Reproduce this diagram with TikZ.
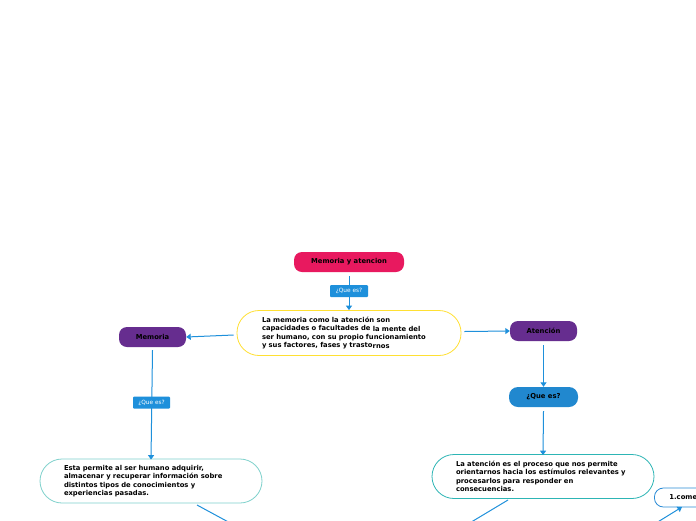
\documentclass[tikz,border=0pt]{standalone}
\usepackage{fontspec}
\setmainfont{DejaVu Sans}
\usetikzlibrary{arrows.meta,calc}
\definecolor{cpink}{HTML}{E8195F}
\definecolor{cpurple}{HTML}{662D8F}
\definecolor{clabel}{HTML}{1E90DB}
\definecolor{cqbox}{HTML}{2188CF}
\definecolor{cyellow}{HTML}{FFE033}
\definecolor{cteal}{HTML}{7FD1CC}
\definecolor{cteal2}{HTML}{2DB5B5}
\definecolor{cline}{HTML}{1E90DB}
\definecolor{cblue}{HTML}{2A8BD6}
\newcommand{\tline}[1]{\mbox{#1}}
\tikzset{
  txt/.style={font=\fontsize{6.8}{8.4}\selectfont\bfseries},
  topic/.style={txt, rounded corners=8pt, minimum height=20pt, inner sep=0pt, text=black},
  desc/.style={txt, draw, fill=white, line width=0.8pt, rounded corners=22pt, align=left, text width=174pt, inner xsep=24pt, inner ysep=0pt, minimum height=44pt, text=black},
  qlabel/.style={font=\fontsize{5.8}{6}\selectfont, fill=clabel, text=white, inner sep=0pt, minimum width=38pt, minimum height=12pt, rounded corners=1pt},
  conn/.style={draw=cline, line width=1pt, -{Triangle[width=6pt,length=4.5pt]}},
  plain/.style={draw=cline, line width=1pt},
}
\begin{document}
\begin{tikzpicture}[x=1pt,y=-1pt]
\useasboundingbox (0,0) rectangle (696,520);
\clip (0,0) rectangle (696,520);
\fill[white] (0,0) rectangle (696,520);

% nodes
\node[topic, fill=cpink, minimum width=110pt] (title) at (349,262) {Memoria y atencion};
\node[desc, draw=cyellow, inner xsep=25pt, minimum width=224pt, minimum height=45pt] (central) at (349,333)
 {\tline{La memoria como la atención son}\\\tline{capacidades o facultades de \raisebox{-0.8pt}{la mente del}}\\\tline{ser humano, con su propio funcionamiento}\\\tline{y sus factores, fases y trasto\raisebox{-1pt}{rnos}}};
\node[topic, fill=cpurple, minimum width=67pt] (memoria) at (152.5,337) {Memoria};
\node[topic, fill=cpurple, minimum width=67pt] (atencion) at (543.5,331) {Atención};
\node[topic, fill=cqbox, minimum width=69pt, rounded corners=9pt] (qatencion) at (543.5,397) {¿Que es?};
\node[desc, draw=cteal, minimum width=222pt] (mdesc) at (151,481)
 {\tline{Esta permite al ser humano adquirir,}\\\tline{almacenar y recuperar información sobre}\\\tline{distintos tipos de conocimientos y}\\\tline{experiencias pasadas.}};
\node[desc, draw=cteal2, minimum width=222pt] (adesc) at (543,476.5)
 {\tline{La atención es el proceso que nos permite}\\\tline{orientarnos hacia los estímulos relevantes y}\\\tline{procesarlos para responder en}\\\tline{consecuencias.}};
\node[txt, draw=cblue, line width=0.8pt, fill=white, rounded corners=9pt, minimum height=19pt, minimum width=80pt, inner xsep=15pt, align=left, anchor=west, text width=50pt] (come) at (654,497.5) {1.come};

% coordinates for off-picture ends
\coordinate (mstart) at (197,505);
\coordinate (mend) at (245,531);
\coordinate (astart) at (508,500);
\coordinate (aend) at (458,530);
\coordinate (cstart) at (648,528);
\coordinate (cend) at (682,507);

% connectors
\draw[conn] ($(title.south)+(0,4)$) -- (central.north);
\node[qlabel] (q1) at (349,291) {¿Que es?};
\draw[conn] ($(central.west)+(-3,2)$) -- (memoria.east);
\draw[conn] ($(memoria.south)+(0,3)$) -- ($(mdesc.north)+(0,1)$);
\node[qlabel, minimum width=37pt] (q2) at (151.5,402.5) {¿Que es?};
\draw[conn] ($(central.east)+(3,-1.5)$) -- (atencion.west);
\draw[conn] ($(atencion.south)+(0,4)$) -- (qatencion.north);
\draw[conn] ($(qatencion.south)+(0,4)$) -- ($(adesc.north)+(0,1)$);
\draw[plain] (mstart) -- (mend);
\draw[plain] (astart) -- (aend);
\draw[conn] (cstart) -- (cend);
\end{tikzpicture}
\end{document}
